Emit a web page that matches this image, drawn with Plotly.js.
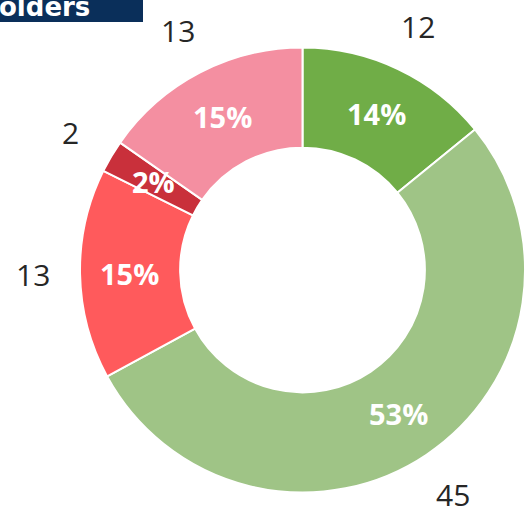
<!DOCTYPE html>
<html>
<head>
<meta charset="utf-8">
<script src="https://cdn.plot.ly/plotly-3.0.1.min.js"></script>
<style>html,body{margin:0;padding:0;background:#fff;}#chart{width:525px;height:511px;}</style>
</head>
<body>
<div id="chart"></div>
<script>
// Data
var categories = ["A", "B", "C", "D", "E"];
var values = [12, 45, 13, 2, 13];
var colors = ["#70AD47", "#9FC486", "#FF5A5C", "#C9303B", "#F48FA1"];
var titleText = "olders";

var W = 525, H = 511;
var cx = 302.5, cy = 270, R = 222.5;
var total = values.reduce(function (a, b) { return a + b; }, 0);

var annotations = [];
var cum = 0;
values.forEach(function (v) {
  var f = (cum + v / 2) / total;
  cum += v;
  var ang = f * 2 * Math.PI; // clockwise from 12 o'clock
  var sx = Math.sin(ang), sy = Math.cos(ang);
  var rIn = 173, rOut = 270;
  annotations.push({
    xref: "paper", yref: "paper",
    x: (cx + rIn * sx) / W, y: 1 - (cy - rIn * sy) / H,
    xanchor: "center", yanchor: "middle", showarrow: false,
    text: Math.round(v / total * 100) + "%",
    font: {family: "Open Sans", size: 29, color: "#FFFFFF", weight: "bold"}
  });
  annotations.push({
    xref: "paper", yref: "paper",
    x: (cx + rOut * sx) / W, y: 1 - (cy - rOut * sy) / H,
    xanchor: "center", yanchor: "middle", showarrow: false, borderpad: 0,
    text: String(v),
    font: {family: "Open Sans", size: 30, color: "#262626"}
  });
});

annotations.push({
  xref: "paper", yref: "paper",
  x: -3 / W, y: 1 - 7 / H, xanchor: "left", yanchor: "middle", showarrow: false,
  text: titleText,
  font: {family: "DejaVu Sans", size: 26, color: "#FFFFFF", weight: "bold"}
});

var trace = {
  type: "pie",
  labels: categories,
  values: values,
  sort: false,
  direction: "clockwise",
  rotation: 0,
  hole: 0.55,
  textinfo: "none",
  hoverinfo: "none",
  marker: {colors: colors, line: {color: "#FFFFFF", width: 2}},
  domain: {x: [80 / W, 1], y: [(H - 493) / H, (H - 47) / H]}
};

var layout = {
  width: W, height: H,
  margin: {l: 0, r: 0, t: 0, b: 0},
  showlegend: false,
  paper_bgcolor: "#FFFFFF",
  shapes: [{
    type: "rect", xref: "paper", yref: "paper",
    x0: 0, x1: 143 / W, y0: 1 - 22 / H, y1: 1,
    fillcolor: "#0A2F5A", line: {width: 0}, layer: "below"
  }],
  annotations: annotations
};

Plotly.newPlot("chart", [trace], layout, {displayModeBar: false, staticPlot: true});
</script>
</body>
</html>
